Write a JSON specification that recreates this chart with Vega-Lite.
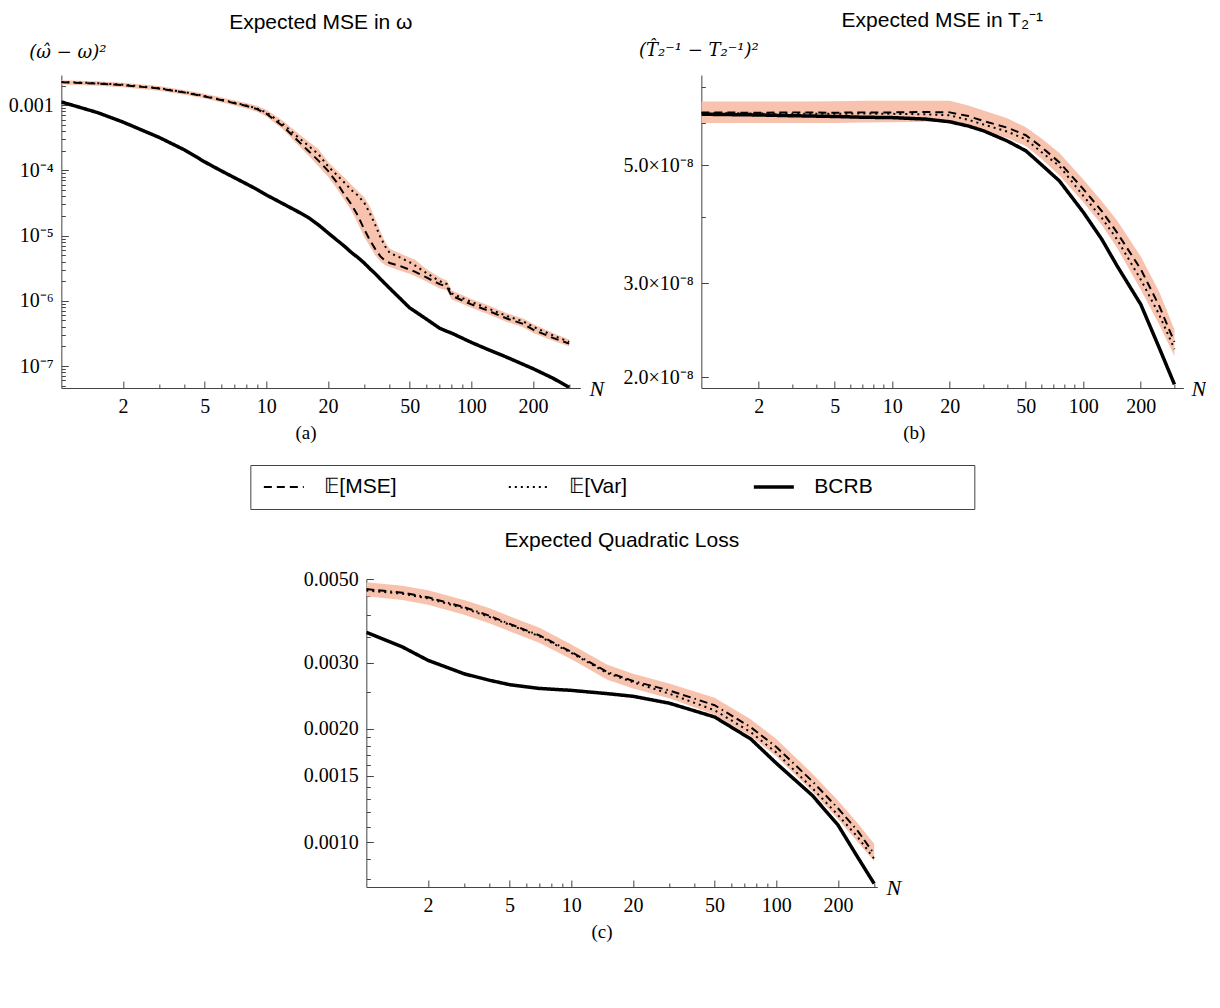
{
  "$schema": "https://vega.github.io/schema/vega-lite/v6.json",
  "background": "white",
  "padding": {"left": 8, "top": 10, "right": 0, "bottom": 0},
  "config": {
    "view": {"stroke": null},
    "font": "Liberation Sans",
    "axis": {"labelFont": "Liberation Serif", "labelFontSize": 20, "labelColor": "black", "domainColor": "#444", "tickColor": "#444", "grid": false, "tickSize": -7, "labelPadding": 15, "titleColor": "black"},
    "title": {"font": "Liberation Sans", "fontSize": 21, "fontWeight": "normal", "color": "black"}
  },
  "datasets": {
    "a": [
      {"N": 1, "mse": 2.24e-3, "var": 2.27e-3, "bcrb": 1.12e-3, "lo": 2.08e-3, "hi": 2.42e-3},
      {"N": 1.5, "mse": 2.14e-3, "var": 2.17e-3, "bcrb": 7.7e-4, "lo": 1.99e-3, "hi": 2.32e-3},
      {"N": 2, "mse": 2.03e-3, "var": 2.06e-3, "bcrb": 5.5e-4, "lo": 1.88e-3, "hi": 2.2e-3},
      {"N": 3, "mse": 1.8e-3, "var": 1.82e-3, "bcrb": 3.2e-4, "lo": 1.67e-3, "hi": 1.96e-3},
      {"N": 4, "mse": 1.56e-3, "var": 1.58e-3, "bcrb": 2.05e-4, "lo": 1.45e-3, "hi": 1.7e-3},
      {"N": 5, "mse": 1.36e-3, "var": 1.38e-3, "bcrb": 1.35e-4, "lo": 1.26e-3, "hi": 1.49e-3},
      {"N": 6, "mse": 1.2e-3, "var": 1.22e-3, "bcrb": 9.9e-5, "lo": 1.11e-3, "hi": 1.32e-3},
      {"N": 7, "mse": 1.07e-3, "var": 1.09e-3, "bcrb": 7.7e-5, "lo": 9.9e-4, "hi": 1.18e-3},
      {"N": 8, "mse": 9.7e-4, "var": 9.9e-4, "bcrb": 6.2e-5, "lo": 8.9e-4, "hi": 1.08e-3},
      {"N": 9, "mse": 8.7e-4, "var": 8.9e-4, "bcrb": 5.1e-5, "lo": 7.9e-4, "hi": 9.8e-4},
      {"N": 10, "mse": 7.4e-4, "var": 7.7e-4, "bcrb": 4.2e-5, "lo": 6.7e-4, "hi": 8.5e-4},
      {"N": 12, "mse": 4.8e-4, "var": 5.2e-4, "bcrb": 3.1e-5, "lo": 4.3e-4, "hi": 5.8e-4},
      {"N": 14, "mse": 3.0e-4, "var": 3.4e-4, "bcrb": 2.4e-5, "lo": 2.6e-4, "hi": 3.9e-4},
      {"N": 16, "mse": 2.0e-4, "var": 2.4e-4, "bcrb": 1.9e-5, "lo": 1.7e-4, "hi": 2.8e-4},
      {"N": 18, "mse": 1.4e-4, "var": 1.75e-4, "bcrb": 1.45e-5, "lo": 1.15e-4, "hi": 2.1e-4},
      {"N": 20, "mse": 9.8e-5, "var": 1.15e-4, "bcrb": 1.1e-5, "lo": 8.0e-5, "hi": 1.35e-4},
      {"N": 22, "mse": 6.6e-5, "var": 8.6e-5, "bcrb": 8.6e-6, "lo": 5.3e-5, "hi": 1.0e-4},
      {"N": 24, "mse": 4.3e-5, "var": 6.5e-5, "bcrb": 6.9e-6, "lo": 3.5e-5, "hi": 7.8e-5},
      {"N": 26, "mse": 3.0e-5, "var": 5.0e-5, "bcrb": 5.5e-6, "lo": 2.4e-5, "hi": 6.0e-5},
      {"N": 28, "mse": 2.0e-5, "var": 4.1e-5, "bcrb": 4.6e-6, "lo": 1.5e-5, "hi": 4.8e-5},
      {"N": 30, "mse": 1.25e-5, "var": 3.2e-5, "bcrb": 3.8e-6, "lo": 9.5e-6, "hi": 3.9e-5},
      {"N": 32, "mse": 8.5e-6, "var": 2.2e-5, "bcrb": 3.1e-6, "lo": 6.8e-6, "hi": 2.8e-5},
      {"N": 34, "mse": 6.2e-6, "var": 1.45e-5, "bcrb": 2.6e-6, "lo": 5.0e-6, "hi": 1.8e-5},
      {"N": 36, "mse": 4.8e-6, "var": 9.5e-6, "bcrb": 2.16e-6, "lo": 4.0e-6, "hi": 1.15e-5},
      {"N": 38, "mse": 4.1e-6, "var": 6.8e-6, "bcrb": 1.82e-6, "lo": 3.5e-6, "hi": 8.0e-6},
      {"N": 40, "mse": 3.8e-6, "var": 5.4e-6, "bcrb": 1.55e-6, "lo": 3.3e-6, "hi": 6.3e-6},
      {"N": 45, "mse": 3.4e-6, "var": 4.6e-6, "bcrb": 1.08e-6, "lo": 2.9e-6, "hi": 5.3e-6},
      {"N": 50, "mse": 3.0e-6, "var": 3.9e-6, "bcrb": 7.8e-7, "lo": 2.6e-6, "hi": 4.6e-6},
      {"N": 53, "mse": 2.8e-6, "var": 3.5e-6, "bcrb": 6.9e-7, "lo": 2.4e-6, "hi": 4.3e-6},
      {"N": 60, "mse": 2.3e-6, "var": 2.7e-6, "bcrb": 5.3e-7, "lo": 2.0e-6, "hi": 3.1e-6},
      {"N": 70, "mse": 1.8e-6, "var": 2.0e-6, "bcrb": 3.8e-7, "lo": 1.55e-6, "hi": 2.3e-6},
      {"N": 76, "mse": 1.65e-6, "var": 1.8e-6, "bcrb": 3.4e-7, "lo": 1.45e-6, "hi": 2.05e-6},
      {"N": 80, "mse": 1.2e-6, "var": 1.3e-6, "bcrb": 3.2e-7, "lo": 1.05e-6, "hi": 1.45e-6},
      {"N": 100, "mse": 8.8e-7, "var": 9.6e-7, "bcrb": 2.3e-7, "lo": 7.8e-7, "hi": 1.07e-6},
      {"N": 120, "mse": 7.1e-7, "var": 7.7e-7, "bcrb": 1.8e-7, "lo": 6.3e-7, "hi": 8.6e-7},
      {"N": 150, "mse": 5.3e-7, "var": 5.8e-7, "bcrb": 1.35e-7, "lo": 4.7e-7, "hi": 6.4e-7},
      {"N": 180, "mse": 4.4e-7, "var": 4.8e-7, "bcrb": 1.05e-7, "lo": 3.9e-7, "hi": 5.3e-7},
      {"N": 200, "mse": 3.6e-7, "var": 4.0e-7, "bcrb": 9.1e-8, "lo": 3.2e-7, "hi": 4.4e-7},
      {"N": 250, "mse": 2.7e-7, "var": 2.95e-7, "bcrb": 6.5e-8, "lo": 2.45e-7, "hi": 3.2e-7},
      {"N": 300, "mse": 2.2e-7, "var": 2.35e-7, "bcrb": 4.7e-8, "lo": 2.0e-7, "hi": 2.55e-7}
    ],
    "b": [
      {"N": 1, "mse": 6.28e-8, "var": 6.26e-8, "bcrb": 6.23e-8, "lo": 6.0e-8, "hi": 6.58e-8},
      {"N": 2, "mse": 6.27e-8, "var": 6.25e-8, "bcrb": 6.21e-8, "lo": 6.0e-8, "hi": 6.58e-8},
      {"N": 3, "mse": 6.28e-8, "var": 6.24e-8, "bcrb": 6.19e-8, "lo": 6.0e-8, "hi": 6.58e-8},
      {"N": 5, "mse": 6.27e-8, "var": 6.24e-8, "bcrb": 6.17e-8, "lo": 6.0e-8, "hi": 6.59e-8},
      {"N": 7, "mse": 6.28e-8, "var": 6.25e-8, "bcrb": 6.15e-8, "lo": 6.01e-8, "hi": 6.6e-8},
      {"N": 10, "mse": 6.28e-8, "var": 6.24e-8, "bcrb": 6.14e-8, "lo": 6.02e-8, "hi": 6.6e-8},
      {"N": 15, "mse": 6.29e-8, "var": 6.23e-8, "bcrb": 6.1e-8, "lo": 6.03e-8, "hi": 6.6e-8},
      {"N": 20, "mse": 6.28e-8, "var": 6.2e-8, "bcrb": 6.03e-8, "lo": 6.02e-8, "hi": 6.6e-8},
      {"N": 25, "mse": 6.18e-8, "var": 6.08e-8, "bcrb": 5.92e-8, "lo": 5.92e-8, "hi": 6.47e-8},
      {"N": 30, "mse": 6.05e-8, "var": 5.96e-8, "bcrb": 5.8e-8, "lo": 5.8e-8, "hi": 6.33e-8},
      {"N": 40, "mse": 5.88e-8, "var": 5.78e-8, "bcrb": 5.55e-8, "lo": 5.62e-8, "hi": 6.12e-8},
      {"N": 50, "mse": 5.69e-8, "var": 5.59e-8, "bcrb": 5.32e-8, "lo": 5.43e-8, "hi": 5.89e-8},
      {"N": 60, "mse": 5.42e-8, "var": 5.3e-8, "bcrb": 5.02e-8, "lo": 5.15e-8, "hi": 5.62e-8},
      {"N": 75, "mse": 5.06e-8, "var": 4.98e-8, "bcrb": 4.67e-8, "lo": 4.78e-8, "hi": 5.27e-8},
      {"N": 100, "mse": 4.51e-8, "var": 4.38e-8, "bcrb": 4.08e-8, "lo": 4.26e-8, "hi": 4.7e-8},
      {"N": 125, "mse": 4.1e-8, "var": 3.98e-8, "bcrb": 3.63e-8, "lo": 3.86e-8, "hi": 4.28e-8},
      {"N": 150, "mse": 3.74e-8, "var": 3.63e-8, "bcrb": 3.24e-8, "lo": 3.5e-8, "hi": 3.94e-8},
      {"N": 200, "mse": 3.19e-8, "var": 3.05e-8, "bcrb": 2.74e-8, "lo": 2.92e-8, "hi": 3.37e-8},
      {"N": 250, "mse": 2.72e-8, "var": 2.62e-8, "bcrb": 2.27e-8, "lo": 2.51e-8, "hi": 2.89e-8},
      {"N": 300, "mse": 2.33e-8, "var": 2.26e-8, "bcrb": 1.94e-8, "lo": 2.19e-8, "hi": 2.46e-8}
    ],
    "c": [
      {"N": 1, "L": 4.70e-3, "tr": 4.66e-3, "bcrb": 3.61e-3, "lo": 4.5e-3, "hi": 4.9e-3},
      {"N": 1.5, "L": 4.6e-3, "tr": 4.57e-3, "bcrb": 3.3e-3, "lo": 4.4e-3, "hi": 4.8e-3},
      {"N": 2, "L": 4.47e-3, "tr": 4.44e-3, "bcrb": 3.04e-3, "lo": 4.27e-3, "hi": 4.67e-3},
      {"N": 3, "L": 4.21e-3, "tr": 4.18e-3, "bcrb": 2.8e-3, "lo": 4.02e-3, "hi": 4.4e-3},
      {"N": 4, "L": 3.99e-3, "tr": 3.96e-3, "bcrb": 2.69e-3, "lo": 3.81e-3, "hi": 4.18e-3},
      {"N": 5, "L": 3.80e-3, "tr": 3.78e-3, "bcrb": 2.62e-3, "lo": 3.63e-3, "hi": 3.98e-3},
      {"N": 7, "L": 3.54e-3, "tr": 3.52e-3, "bcrb": 2.56e-3, "lo": 3.38e-3, "hi": 3.71e-3},
      {"N": 10, "L": 3.2e-3, "tr": 3.18e-3, "bcrb": 2.53e-3, "lo": 3.06e-3, "hi": 3.35e-3},
      {"N": 15, "L": 2.83e-3, "tr": 2.81e-3, "bcrb": 2.48e-3, "lo": 2.70e-3, "hi": 2.96e-3},
      {"N": 20, "L": 2.68e-3, "tr": 2.66e-3, "bcrb": 2.44e-3, "lo": 2.56e-3, "hi": 2.80e-3},
      {"N": 30, "L": 2.53e-3, "tr": 2.48e-3, "bcrb": 2.34e-3, "lo": 2.41e-3, "hi": 2.64e-3},
      {"N": 50, "L": 2.31e-3, "tr": 2.24e-3, "bcrb": 2.15e-3, "lo": 2.18e-3, "hi": 2.42e-3},
      {"N": 75, "L": 2.02e-3, "tr": 1.96e-3, "bcrb": 1.88e-3, "lo": 1.91e-3, "hi": 2.12e-3},
      {"N": 100, "L": 1.79e-3, "tr": 1.73e-3, "bcrb": 1.62e-3, "lo": 1.69e-3, "hi": 1.88e-3},
      {"N": 150, "L": 1.45e-3, "tr": 1.39e-3, "bcrb": 1.33e-3, "lo": 1.36e-3, "hi": 1.52e-3},
      {"N": 200, "L": 1.23e-3, "tr": 1.18e-3, "bcrb": 1.11e-3, "lo": 1.15e-3, "hi": 1.29e-3},
      {"N": 250, "L": 1.07e-3, "tr": 1.03e-3, "bcrb": 9.1e-4, "lo": 1.0e-3, "hi": 1.12e-3},
      {"N": 300, "L": 9.3e-4, "tr": 9.04e-4, "bcrb": 7.76e-4, "lo": 8.9e-4, "hi": 9.9e-4}
    ]
  },
  "vconcat": [
    {
      "spacing": 18,
      "align": "none",
      "resolve": {"scale": {"strokeDash": "shared"}, "legend": {"strokeDash": "shared"}},
      "hconcat": [
        {
          "title": {"text": "(a)", "orient": "bottom", "anchor": "middle", "font": "Liberation Serif", "fontSize": 19, "offset": 8},
          "resolve": {"scale": {"strokeDash": "shared"}, "legend": {"strokeDash": "shared"}},
          "vconcat": [
            {
              "width": 519, "height": 313,
              "title": {"text": "Expected MSE in ω", "frame": "group", "anchor": "middle", "offset": 10},
              "data": {"name": "a"},
              "resolve": {"axis": {"x": "independent", "y": "independent"}},
              "layer": [
                {
                  "mark": {"type": "area", "color": "#f8c3ae", "clip": true},
                  "encoding": {
                    "x": {"field": "N", "type": "quantitative", "scale": {"type": "log", "domain": [1, 340], "nice": false},
                      "axis": {"orient": "bottom", "values": [2, 5, 10, 20, 50, 100, 200], "title": "N", "titleX": 535, "titleY": 0, "titleAngle": 0, "titleAlign": "center", "titleBaseline": "middle", "titleFont": "Liberation Serif", "titleFontStyle": "italic", "titleFontSize": 22, "titleFontWeight": "normal"}},
                    "y": {"field": "lo", "type": "quantitative", "scale": {"type": "log", "domain": [4.6e-8, 2.9e-3], "nice": false},
                      "axis": {"orient": "left", "values": [0.001, 0.0001, 0.00001, 0.000001, 0.0000001], "labelExpr": "datum.value > 0.0005 ? '0.001' : '10' + ['⁻⁴','⁻⁵','⁻⁶','⁻⁷'][-4 - round(log(datum.value)/LN10)]", "title": "(ω̂ − ω)²", "titleAngle": 0, "titleX": 6, "titleY": -23, "titleAlign": "center", "titleBaseline": "middle", "titleFont": "DejaVu Serif", "titleFontStyle": "italic", "titleFontSize": 18, "titleFontWeight": "normal"}},
                    "y2": {"field": "hi"}
                  }
                },
                {
                  "transform": [{"fold": ["mse", "var"], "as": ["series", "v"]}],
                  "mark": {"type": "line", "color": "black", "clip": true, "strokeWidth": 2},
                  "encoding": {
                    "x": {"field": "N", "type": "quantitative", "axis": null},
                    "y": {"field": "v", "type": "quantitative", "axis": null},
                    "strokeDash": {"field": "series", "type": "nominal", "scale": {"domain": ["mse", "var", "bcrb"], "range": [[8, 5], [2, 4], [1, 0]]},
                      "legend": {"title": null, "orient": "none", "legendX": 189, "legendY": 390, "direction": "horizontal", "columns": 3, "symbolType": "stroke", "symbolSize": 1600, "symbolStrokeColor": "black", "symbolStrokeWidth": {"expr": "datum.value == 'bcrb' ? 3.5 : 2.2"}, "symbolOffset": 12, "labelFont": "Liberation Sans", "labelFontSize": 21, "labelColor": "black", "strokeColor": "#444", "padding": 11, "gridAlign": "all", "columnPadding": 33, "labelOffset": 30, "clipHeight": 22, "labelExpr": "datum.label == 'mse' ? '𝔼[MSE]' : datum.label == 'var' ? '𝔼[Var]' : 'BCRB\u2800\u2800\u2800\u2800\u2800\u2800'"}}
                  }
                },
                {
                  "transform": [{"fold": ["bcrb"], "as": ["series", "v"]}],
                  "mark": {"type": "line", "color": "black", "clip": true, "strokeWidth": 3.5},
                  "encoding": {
                    "x": {"field": "N", "type": "quantitative",
                      "axis": {"orient": "bottom", "values": [3, 4, 6, 7, 8, 9, 30, 40, 60, 70, 80, 90, 300], "labels": false, "domain": false, "tickSize": -4, "title": null}},
                    "y": {"field": "v", "type": "quantitative",
                      "axis": {"orient": "left", "values": [0.002, 0.0009, 0.0008, 0.0007, 0.0006, 0.0005, 0.0004, 0.0003, 0.0002, 0.00009, 0.00008, 0.00007, 0.00006, 0.00005, 0.00004, 0.00003, 0.00002, 0.000009, 0.000008, 0.000007, 0.000006, 0.000005, 0.000004, 0.000003, 0.000002, 9e-7, 8e-7, 7e-7, 6e-7, 5e-7, 4e-7, 3e-7, 2e-7, 9e-8, 8e-8, 7e-8, 6e-8, 5e-8], "labels": false, "domain": false, "tickSize": -4, "title": null}},
                    "strokeDash": {"field": "series", "type": "nominal"}
                  }
                }
              ]
            }
          ]
        },
        {
          "title": {"text": "(b)", "orient": "bottom", "anchor": "middle", "font": "Liberation Serif", "fontSize": 19, "offset": 8},
          "resolve": {"scale": {"strokeDash": "shared"}, "legend": {"strokeDash": "shared"}},
          "vconcat": [
            {
              "width": 482, "height": 313,
              "title": {"text": "Expected MSE in T₂⁻¹", "frame": "group", "anchor": "middle", "offset": 10},
              "data": {"name": "b"},
              "resolve": {"axis": {"x": "independent", "y": "independent"}},
              "layer": [
                {
                  "mark": {"type": "area", "color": "#f8c3ae", "clip": true},
                  "encoding": {
                    "x": {"field": "N", "type": "quantitative", "scale": {"type": "log", "domain": [1, 334], "nice": false},
                      "axis": {"orient": "bottom", "values": [2, 5, 10, 20, 50, 100, 200], "title": "N", "titleX": 497, "titleY": 0, "titleAngle": 0, "titleAlign": "center", "titleBaseline": "middle", "titleFont": "Liberation Serif", "titleFontStyle": "italic", "titleFontSize": 22, "titleFontWeight": "normal"}},
                    "y": {"field": "lo", "type": "quantitative", "scale": {"type": "log", "domain": [1.91e-8, 7.38e-8], "nice": false},
                      "axis": {"orient": "left", "values": [2e-8, 3e-8, 5e-8], "labelExpr": "format(datum.value*1e8, '.1f') + '×10⁻⁸'", "title": "(T̂₂⁻¹ − T₂⁻¹)²", "titleAngle": 0, "titleX": -3, "titleY": -25, "titleAlign": "center", "titleBaseline": "middle", "titleFont": "DejaVu Serif", "titleFontStyle": "italic", "titleFontSize": 18, "titleFontWeight": "normal"}},
                    "y2": {"field": "hi"}
                  }
                },
                {
                  "transform": [{"fold": ["mse", "var"], "as": ["series", "v"]}],
                  "mark": {"type": "line", "color": "black", "clip": true, "strokeWidth": 2},
                  "encoding": {
                    "x": {"field": "N", "type": "quantitative", "axis": null},
                    "y": {"field": "v", "type": "quantitative", "axis": null},
                    "strokeDash": {"field": "series", "type": "nominal"}
                  }
                },
                {
                  "transform": [{"fold": ["bcrb"], "as": ["series", "v"]}],
                  "mark": {"type": "line", "color": "black", "clip": true, "strokeWidth": 3.5},
                  "encoding": {
                    "x": {"field": "N", "type": "quantitative",
                      "axis": {"orient": "bottom", "values": [3, 4, 6, 7, 8, 9, 30, 40, 60, 70, 80, 90, 300], "labels": false, "domain": false, "tickSize": -4, "title": null}},
                    "y": {"field": "v", "type": "quantitative",
                      "axis": {"orient": "left", "values": [4e-8, 6e-8, 7e-8], "labels": false, "domain": false, "tickSize": -4, "title": null}},
                    "strokeDash": {"field": "series", "type": "nominal"}
                  }
                }
              ]
            }
          ]
        }
      ]
    },
    {
      "resolve": {"scale": {"strokeDash": "shared", "opacity": "shared"}, "legend": {"strokeDash": "shared", "opacity": "shared"}},
      "vconcat": [
        {
          "title": {"text": "(c)", "orient": "bottom", "anchor": "middle", "font": "Liberation Serif", "fontSize": 19, "offset": 8},
          "resolve": {"scale": {"strokeDash": "shared", "opacity": "shared"}, "legend": {"strokeDash": "shared", "opacity": "shared"}},
          "vconcat": [
            {
              "width": 511, "height": 308,
              "title": {"text": "Expected Quadratic Loss", "frame": "group", "anchor": "middle", "offset": 18},
              "data": {"name": "c"},
              "resolve": {"axis": {"x": "independent", "y": "independent"}},
              "layer": [
                {
                  "mark": {"type": "area", "color": "#f8c3ae", "clip": true},
                  "encoding": {
                    "x": {"field": "N", "type": "quantitative", "scale": {"type": "log", "domain": [1, 311], "nice": false},
                      "axis": {"orient": "bottom", "values": [2, 5, 10, 20, 50, 100, 200], "title": "N", "titleX": 527, "titleY": 0, "titleAngle": 0, "titleAlign": "center", "titleBaseline": "middle", "titleFont": "Liberation Serif", "titleFontStyle": "italic", "titleFontSize": 22, "titleFontWeight": "normal"}},
                    "y": {"field": "lo", "type": "quantitative", "scale": {"type": "log", "domain": [7.6e-4, 5.0e-3], "nice": false},
                      "axis": {"orient": "left", "values": [0.001, 0.0015, 0.002, 0.003, 0.005], "labelExpr": "format(datum.value, '.4f')", "title": null}},
                    "y2": {"field": "hi"}
                  }
                },
                {
                  "transform": [{"fold": ["L", "tr"], "as": ["series", "v"]}],
                  "mark": {"type": "line", "color": "black", "clip": true, "strokeWidth": 2},
                  "encoding": {
                    "x": {"field": "N", "type": "quantitative", "axis": null},
                    "y": {"field": "v", "type": "quantitative", "axis": null},
                    "strokeDash": {"field": "series", "type": "nominal", "scale": {"domain": ["L", "tr", "bcrb"], "range": [[8, 4, 8, 4, 1.5, 4], [2, 4], [1, 0]]}, "legend": null},
                    "opacity": {"field": "series", "type": "nominal", "scale": {"domain": ["L", "tr", "bcrb"], "range": [1, 1]},
                      "legend": {"title": null, "orient": "none", "legendX": 241, "legendY": 954, "direction": "horizontal", "columns": 3, "symbolType": "stroke", "symbolSize": 1600, "symbolStrokeColor": "black", "symbolOpacity": 1, "symbolDash": {"expr": "datum.value == 'L' ? [8, 4, 8, 4, 1.5, 4] : datum.value == 'tr' ? [2, 4] : [1, 0]"}, "symbolStrokeWidth": {"expr": "datum.value == 'bcrb' ? 3.5 : 2.2"}, "symbolOffset": 12, "labelFont": "Liberation Sans", "labelFontSize": 21, "labelColor": "black", "strokeColor": "#444", "padding": 11, "gridAlign": "all", "columnPadding": 33, "labelOffset": 30, "clipHeight": 22, "labelExpr": "datum.label == 'L' ? '𝔼[𝐿]' : datum.label == 'tr' ? '𝔼[Tr(Σ · 𝑸)]' : 'BCRB\u2800\u2800\u2800\u2800\u2800\u2800'"}}
                  }
                },
                {
                  "transform": [{"fold": ["bcrb"], "as": ["series", "v"]}],
                  "mark": {"type": "line", "color": "black", "clip": true, "strokeWidth": 3.5},
                  "encoding": {
                    "x": {"field": "N", "type": "quantitative",
                      "axis": {"orient": "bottom", "values": [3, 4, 6, 7, 8, 9, 30, 40, 60, 70, 80, 90, 300], "labels": false, "domain": false, "tickSize": -4, "title": null}},
                    "y": {"field": "v", "type": "quantitative",
                      "axis": {"orient": "left", "values": [0.0008, 0.0009, 0.0011, 0.0012, 0.0013, 0.0014, 0.0016, 0.0017, 0.0018, 0.0019, 0.0025, 0.0035, 0.004, 0.0045], "labels": false, "domain": false, "tickSize": -4, "title": null}},
                    "strokeDash": {"field": "series", "type": "nominal"}
                  }
                }
              ]
            }
          ]
        }
      ]
    }
  ],
  "center": true,
  "spacing": 20,
  "resolve": {"scale": {"strokeDash": "independent", "opacity": "shared"}, "legend": {"strokeDash": "independent", "opacity": "shared"}}
}
